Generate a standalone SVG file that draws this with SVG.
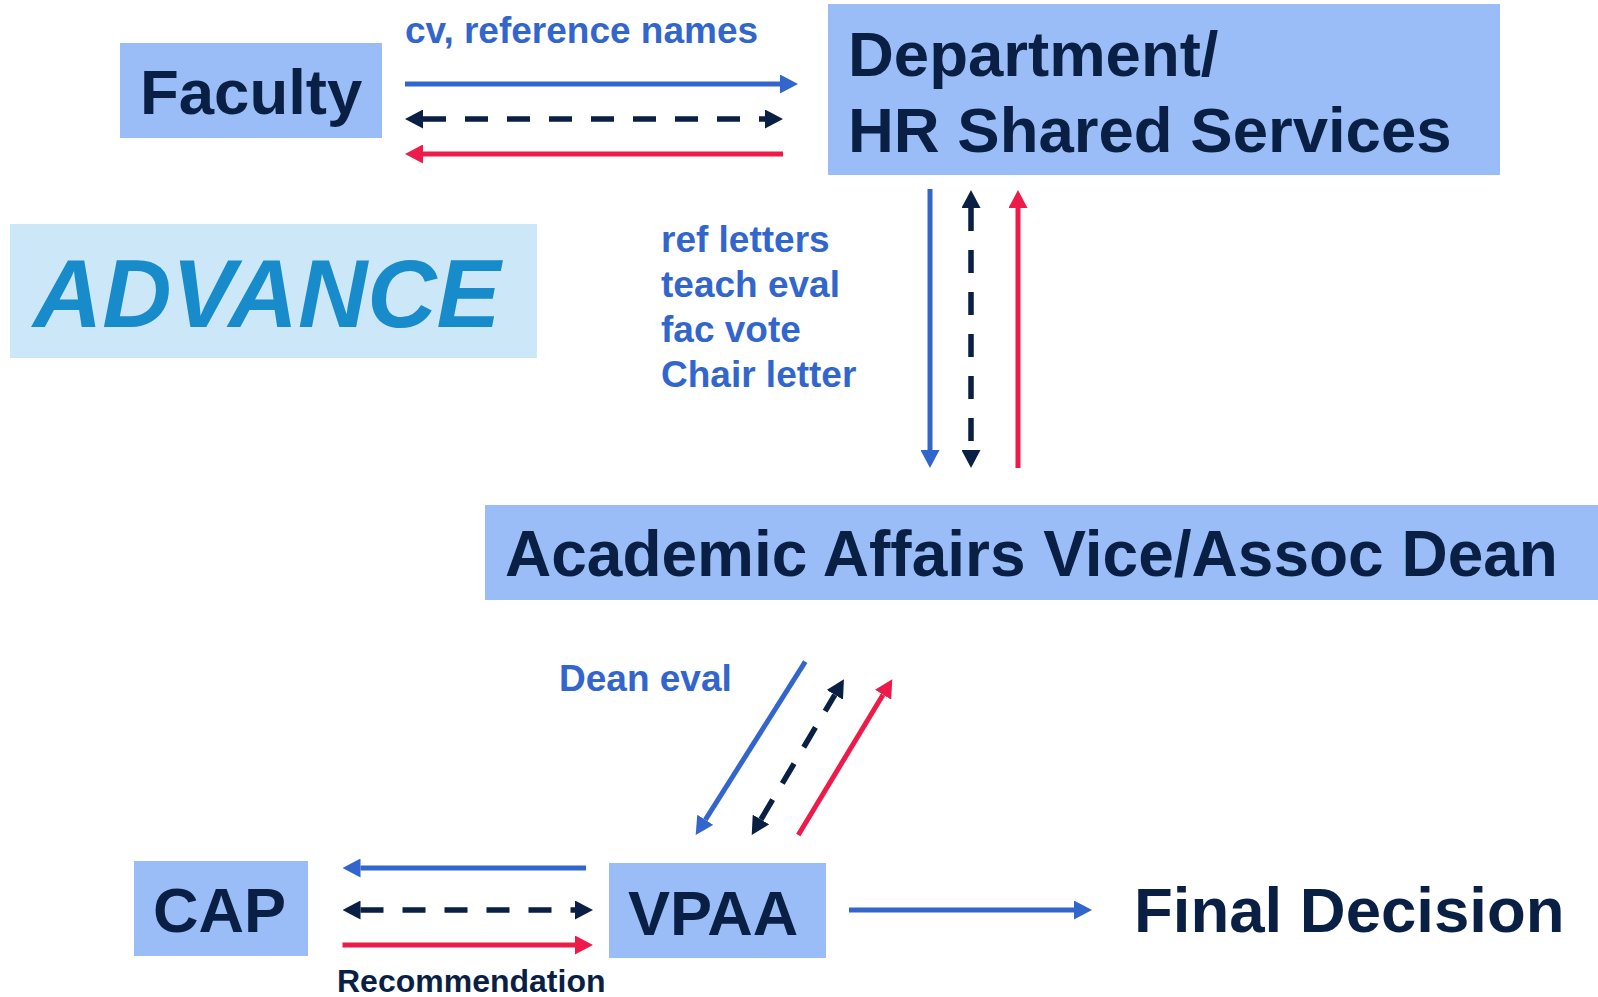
<svg xmlns="http://www.w3.org/2000/svg" width="1598" height="997" viewBox="0 0 1598 997">
<style>
.box{fill:#9BBDF7}
.big{font-family:"Liberation Sans",Arial,sans-serif;font-weight:bold;fill:#0A1F44}
.lbl{font-family:"Liberation Sans",Arial,sans-serif;font-weight:bold;fill:#3366CC;font-size:37px}
.blue{stroke:#3366CC;stroke-width:5;fill:none}
.navy{stroke:#0A1F44;stroke-width:5.5;fill:none;stroke-dasharray:23 19}
.red{stroke:#EE1A4A;stroke-width:5;fill:none}
</style>
<defs>
<marker id="hb" viewBox="0 0 18 19" refX="0" refY="9.5" markerWidth="18" markerHeight="19" markerUnits="userSpaceOnUse" orient="auto-start-reverse"><path d="M0,0 L18,9.5 L0,19 z" fill="#3366CC"/></marker>
<marker id="hn" viewBox="0 0 18 19" refX="0" refY="9.5" markerWidth="18" markerHeight="19" markerUnits="userSpaceOnUse" orient="auto-start-reverse"><path d="M0,0 L18,9.5 L0,19 z" fill="#0A1F44"/></marker>
<marker id="hr" viewBox="0 0 18 19" refX="0" refY="9.5" markerWidth="18" markerHeight="19" markerUnits="userSpaceOnUse" orient="auto-start-reverse"><path d="M0,0 L18,9.5 L0,19 z" fill="#EE1A4A"/></marker>
</defs>
<rect width="1598" height="997" fill="#FFFFFF"/>

<g id="faculty">
<rect class="box" x="120" y="43" width="262" height="95"/>
<text class="big" x="140" y="114" font-size="63.5">Faculty</text>
</g>

<g id="department">
<rect class="box" x="828" y="4" width="672" height="171"/>
<text class="big" x="848" y="76" font-size="63.5">Department/</text>
<text class="big" x="848" y="152" font-size="63.5">HR Shared Services</text>
</g>

<g id="advance">
<rect x="10" y="224" width="527" height="134" fill="#CCE8F8"/>
<text x="33" y="327" font-family="'Liberation Sans',Arial,sans-serif" font-weight="bold" font-style="italic" font-size="96" fill="#188CCB">ADVANCE</text>
</g>

<g id="academic-affairs">
<rect class="box" x="485" y="505" width="1113" height="95"/>
<text class="big" x="505" y="576" font-size="64">Academic Affairs Vice/Assoc Dean</text>
</g>

<g id="cap">
<rect class="box" x="134" y="861" width="174" height="95"/>
<text class="big" x="153" y="932" font-size="63">CAP</text>
</g>

<g id="vpaa">
<rect class="box" x="609" y="863" width="217" height="95"/>
<text class="big" x="628" y="935" font-size="63">VPAA</text>
</g>

<g id="final-decision">
<text class="big" x="1134" y="932" font-size="63.5">Final Decision</text>
</g>

<g id="connectors">
<line class="blue" x1="405" y1="84" x2="780" y2="84" marker-end="url(#hb)"/>
<line class="navy" x1="423" y1="119" x2="765" y2="119" marker-start="url(#hn)" marker-end="url(#hn)"/>
<line class="red" x1="783" y1="154" x2="423" y2="154" marker-end="url(#hr)"/>

<line class="blue" x1="930" y1="189" x2="930" y2="450" marker-end="url(#hb)"/>
<line class="navy" x1="971" y1="208" x2="971" y2="450" marker-start="url(#hn)" marker-end="url(#hn)"/>
<line class="red" x1="1018" y1="468" x2="1018" y2="208" marker-end="url(#hr)"/>

<line class="blue" x1="805.3" y1="661.7" x2="705.3" y2="819.8" marker-end="url(#hb)"/>
<line class="navy" x1="760.9" y1="819.5" x2="834.8" y2="694.8" marker-start="url(#hn)" marker-end="url(#hn)"/>
<line class="red" x1="798.3" y1="835" x2="883" y2="694.7" marker-end="url(#hr)"/>

<line class="blue" x1="586" y1="868" x2="360.5" y2="868" marker-end="url(#hb)"/>
<line class="navy" x1="360.5" y1="910" x2="575" y2="910" marker-start="url(#hn)" marker-end="url(#hn)"/>
<line class="red" x1="342.5" y1="945" x2="575" y2="945" marker-end="url(#hr)"/>

<line class="blue" x1="849" y1="910" x2="1074" y2="910" marker-end="url(#hb)"/>

<text class="lbl" x="405" y="43">cv, reference names</text>
<text class="lbl" x="661" y="252">ref letters</text>
<text class="lbl" x="661" y="297">teach eval</text>
<text class="lbl" x="661" y="342">fac vote</text>
<text class="lbl" x="661" y="387">Chair letter</text>
<text class="lbl" x="559" y="691">Dean eval</text>
<text class="big" x="337" y="992" font-size="32">Recommendation</text>
</g>
</svg>
